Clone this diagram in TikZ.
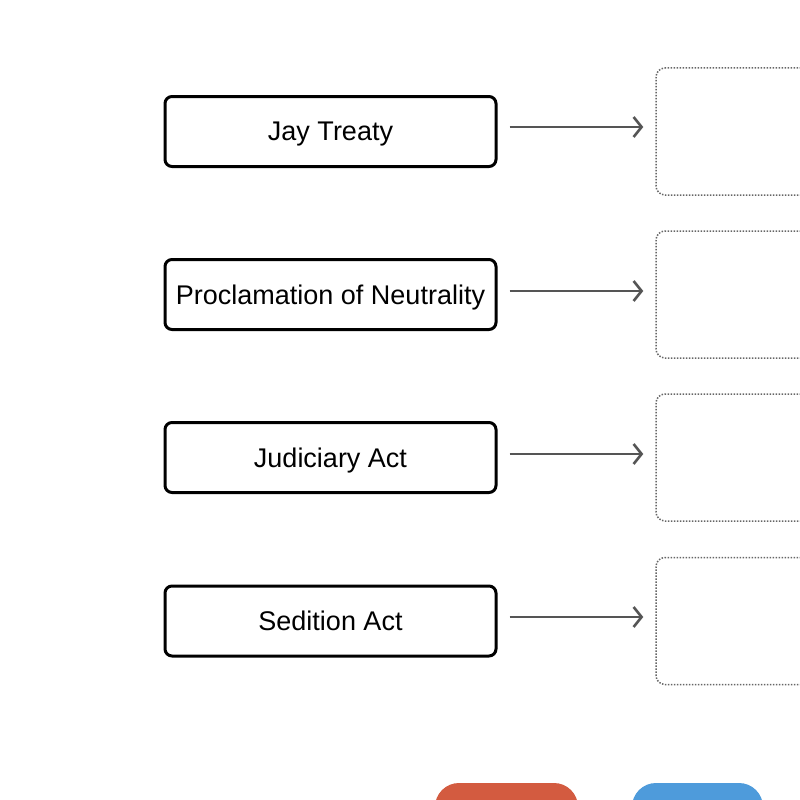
\documentclass[tikz,border=0pt]{standalone}
\usepackage{fontspec}
\setmainfont{Liberation Sans}
\usetikzlibrary{arrows.meta}
\definecolor{arrowgray}{HTML}{555555}
\definecolor{dotgray}{HTML}{666666}
\definecolor{btnred}{HTML}{D35B40}
\definecolor{btnblue}{HTML}{4E9BDB}
\begin{document}
\begin{tikzpicture}[x=1pt,y=-1pt,
  eventbox/.style={draw=black, line width=3pt, rounded corners=7pt, minimum width=331pt, minimum height=70pt, inner sep=0pt, font=\fontsize{27}{30}\selectfont, text depth=0pt, anchor=center},
  answerbox/.style={draw=dotgray, line width=1.5pt, dash pattern=on 1.5pt off 1.5pt, rounded corners=9pt, minimum width=244pt, minimum height=127pt, inner sep=0pt},
  link/.style={draw=arrowgray, line width=2.2pt, -{Straight Barb[length=8pt,width=20pt,line width=2.6pt]}, shorten <=12pt, shorten >=12pt}
]
\useasboundingbox (0,0) rectangle (800,800);
\clip (0,0) rectangle (800,800);
\node[eventbox] (e1) at (330.5,131.5) {Jay Treaty};
\node[eventbox] (e2) at (330.5,294.5) {Proclamation of Neutrality};
\node[eventbox] (e3) at (330.5,457.5) {Judiciary Act};
\node[eventbox] (e4) at (330.5,621) {Sedition Act};
\node[answerbox] (a1) at (778,131.5) {};
\node[answerbox] (a2) at (778,294.5) {};
\node[answerbox] (a3) at (778,457.5) {};
\node[answerbox] (a4) at (778,621) {};
\draw[link] (e1.east |- 0,127) -- (a1.west |- 0,127);
\draw[link] (e2.east |- 0,291) -- (a2.west |- 0,291);
\draw[link] (e3.east |- 0,454) -- (a3.west |- 0,454);
\draw[link] (e4.east |- 0,617) -- (a4.west |- 0,617);
\fill[btnred, rounded corners=24pt] (435,783) rectangle (578,850);
\fill[btnblue, rounded corners=24pt] (632,783) rectangle (763,850);
\end{tikzpicture}
\end{document}
